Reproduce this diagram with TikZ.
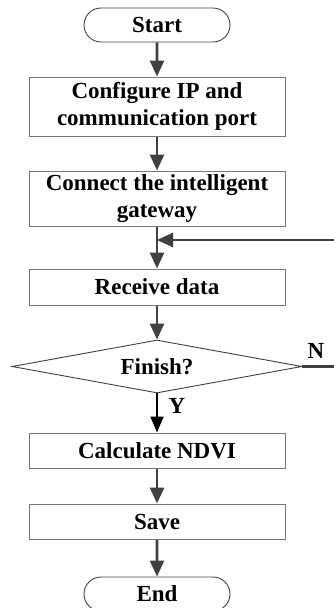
\documentclass[tikz,border=0pt]{standalone}
\usepackage{fontspec}
\setmainfont{Liberation Serif}
\usetikzlibrary{arrows.meta,shapes.geometric,shapes.misc}
\definecolor{linegray}{RGB}{64,64,64}
\definecolor{boxgray}{RGB}{120,120,120}
\tikzset{
  lbl/.style={font=\fontsize{23}{27}\selectfont\bfseries, align=center, inner sep=0pt},
  procbox/.style={lbl, draw=boxgray, line width=1pt, minimum width=256pt},
  term/.style={lbl, draw=linegray, line width=0.9pt, rounded rectangle, minimum width=146pt, minimum height=34pt},
  decision/.style={lbl, draw=linegray, line width=0.9pt, diamond, aspect=5.47, minimum width=290pt, minimum height=53pt},
  flow/.style={draw=linegray, line width=2.6pt, -{Triangle[length=16pt,width=14pt]}},
  yflow/.style={draw=black, line width=1.6pt, -{Triangle[length=16pt,width=13pt]}},
  plainflow/.style={draw=linegray, line width=2.6pt},
}
\begin{document}
\begin{tikzpicture}[x=1pt,y=-1pt]
\useasboundingbox (0,0) rectangle (334,608);
\node[term] (start) at (157,25) {Start};
\node[procbox, minimum height=59pt] (config) at (157,106.5) {Configure IP and\\communication port};
\node[procbox, minimum height=55pt] (connect) at (157,198.5) {Connect the intelligent\\gateway};
\node[procbox, minimum height=36pt] (receive) at (157,287) {Receive data};
\node[decision] (finish) at (157,366.5) {Finish?};
\node[procbox, minimum height=35pt] (calc) at (157,450.5) {Calculate NDVI};
\node[procbox, minimum height=35pt] (save) at (157,521.5) {Save};
\node[term] (end) at (157,594) {End};
\coordinate (j) at (157,240);
\coordinate (loopin) at (334,240);
\coordinate (nout) at (334,366.5);
\node[lbl] (nlbl) at (316,351) {N};
\node[lbl] (ylbl) at (177,406) {Y};
\draw[flow] (start) -- (config);
\draw[flow] (config) -- (connect);
\draw[flow] (connect) -- (receive);
\draw[flow] (loopin) -- (j);
\draw[flow] (receive) -- (finish);
\draw[plainflow] (finish.east) -- (nout);
\draw[yflow] (finish) -- (calc);
\draw[flow] (calc) -- (save);
\draw[flow] (save) -- (end);
\end{tikzpicture}
\end{document}
